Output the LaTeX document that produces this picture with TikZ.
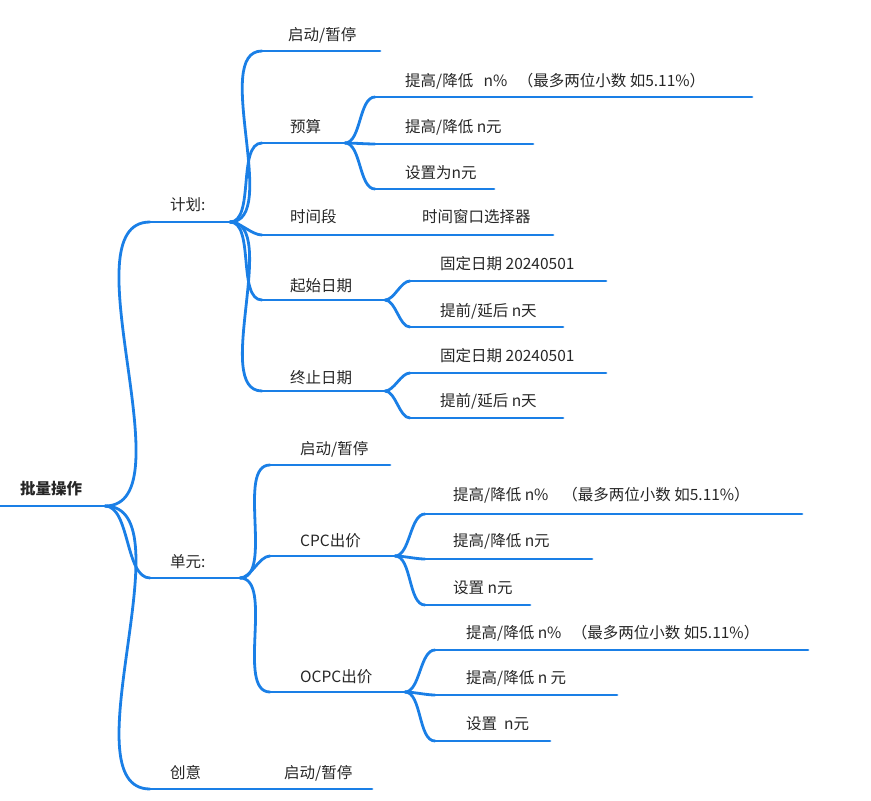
\documentclass[tikz,border=0pt]{standalone}
\usepackage{fontspec}
\setmainfont{Noto Sans CJK SC}
\begin{document}
\begin{tikzpicture}[x=1pt,y=-1pt,
  ln/.style={draw=lb,line width=2.8pt,line cap=round},
  cv/.style={draw=lb,line width=2.8pt,line cap=round,out=0,in=180,looseness=0.75},
  tx/.style={anchor=base west,inner sep=0pt,font=\fontsize{15.5}{17}\selectfont,text=black!85}]
\definecolor{lb}{HTML}{1A7FE6}
\useasboundingbox (0,0) rectangle (871,801);
\newcommand{\mbr}[4]{%
  \coordinate (#1s) at (#2,#4); \coordinate (#1e) at (#3,#4);
  \draw[ln] (#1s) -- (#1e);}
\newcommand{\lab}[4]{\node[tx] (#1) at (#2,#3) {#4};}
% root
\mbr{r}{0}{105}{506}
\node[tx,font=\fontsize{15.5}{17}\selectfont\bfseries] (root) at (20,494) {批量操作};
% level 1
\mbr{p}{150}{230}{222} \lab{pl}{170}{210}{计划:}
\mbr{u}{150}{240}{578} \lab{ul}{170}{567}{单元:}
\mbr{c}{150}{372}{789} \lab{cl}{170}{778}{创意} \lab{cl2}{284}{778}{启动/暂停}
\draw[cv] (re) to (ps); \draw[cv] (re) to (us); \draw[cv] (re) to (cs);
% plan children
\mbr{p1}{262}{380}{51} \lab{p1l}{288}{40}{启动/暂停}
\mbr{p2}{262}{345}{143} \lab{p2l}{290}{132}{预算}
\mbr{p3}{262}{553}{235} \lab{p3l}{290}{222}{时间段} \lab{p3l2}{422}{222}{时间窗口选择器}
\mbr{p4}{262}{385}{300} \lab{p4l}{290}{291}{起始日期}
\mbr{p5}{262}{385}{391} \lab{p5l}{290}{383}{终止日期}
\foreach \c in {p1,p2,p3,p4,p5} \draw[cv] (pe) to (\c s);
% budget
\mbr{b1}{375}{752}{97} \lab{b1l}{405}{86}{提高/降低\ \ \ n\%\ \ \ （最多两位小数 如5.11\%）}
\mbr{b2}{375}{533}{144} \lab{b2l}{405}{132}{提高/降低 n元}
\mbr{b3}{375}{494}{189} \lab{b3l}{405}{178}{设置为n元}
\foreach \c in {b1,b2,b3} \draw[cv] (p2e) to (\c s);
% start/end date
\mbr{s1}{410}{606}{281} \lab{s1l}{440}{269}{固定日期 20240501}
\mbr{s2}{410}{563}{327} \lab{s2l}{440}{316}{提前/延后 n天}
\mbr{e1}{410}{606}{373} \lab{e1l}{440}{361}{固定日期 20240501}
\mbr{e2}{410}{563}{418} \lab{e2l}{440}{406}{提前/延后 n天}
\draw[cv] (p4e) to (s1s); \draw[cv] (p4e) to (s2s);
\draw[cv] (p5e) to (e1s); \draw[cv] (p5e) to (e2s);
% unit children
\mbr{u1}{270}{390}{465} \lab{u1l}{300}{454}{启动/暂停}
\mbr{u2}{270}{395}{556} \lab{u2l}{300}{546}{CPC出价}
\mbr{u3}{270}{405}{692} \lab{u3l}{300}{682}{OCPC出价}
\foreach \c in {u1,u2,u3} \draw[cv] (ue) to (\c s);
\mbr{c1}{425}{802}{514} \lab{c1l}{453}{500}{提高/降低 n\%\ \ \ \ （最多两位小数 如5.11\%）}
\mbr{c2}{425}{592}{559} \lab{c2l}{453}{546}{提高/降低 n元}
\mbr{c3}{425}{530}{605} \lab{c3l}{453}{593}{设置 n元}
\foreach \c in {c1,c2,c3} \draw[cv] (u2e) to (\c s);
\mbr{o1}{435}{808}{650} \lab{o1l}{466}{638}{提高/降低 n\%\ \ \ （最多两位小数 如5.11\%）}
\mbr{o2}{435}{617}{695} \lab{o2l}{466}{683}{提高/降低 n 元}
\mbr{o3}{435}{550}{741} \lab{o3l}{466}{729}{设置\ \ n元}
\foreach \c in {o1,o2,o3} \draw[cv] (u3e) to (\c s);
\end{tikzpicture}
\end{document}
